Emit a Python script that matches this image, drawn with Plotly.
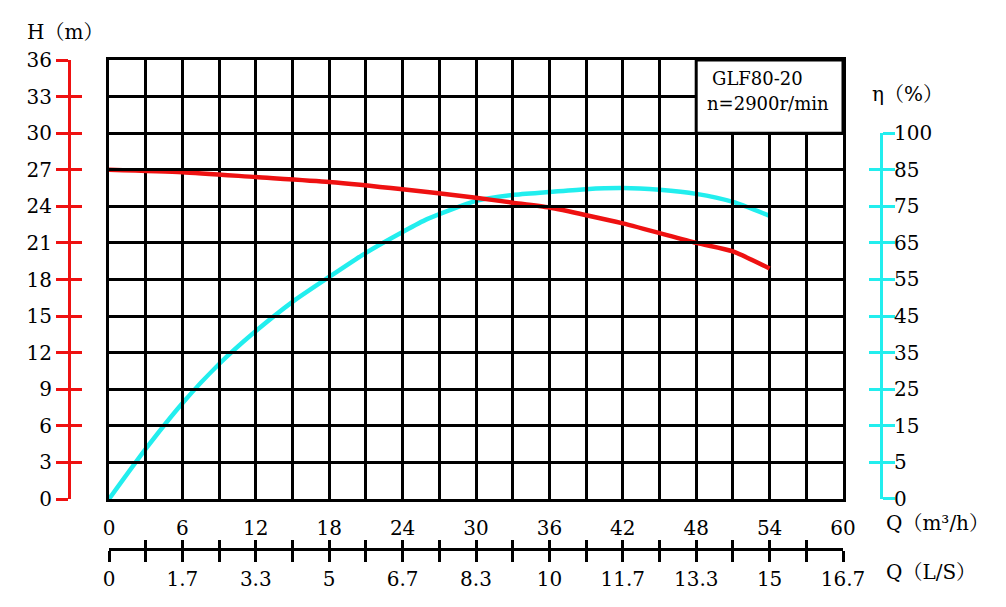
import numpy as np
import plotly.graph_objects as go

# ---------------- data ----------------
q_head = [0, 6, 12, 18, 24, 30, 33, 36, 42, 48, 51, 54]
head_m = [27.0, 26.8, 26.4, 26.0, 25.4, 24.7, 24.3, 23.9, 22.6, 21.0, 20.3, 18.9]

q_eff = [0, 3, 6, 9, 12, 15, 18, 21, 24, 26, 30, 33, 36, 39, 42, 45, 48, 51, 54]
eff_pct = [0, 8.7, 21.2, 31.9, 40.9, 48.9, 55.7, 62.3, 68.0, 71.5, 76.5, 78.1,
           78.9, 79.7, 80.0, 79.5, 78.4, 76.2, 72.4]

q_ticks = [0, 6, 12, 18, 24, 30, 36, 42, 48, 54, 60]
ls_labels = ["0", "1.7", "3.3", "5", "6.7", "8.3", "10", "11.7", "13.3", "15", "16.7"]
h_ticks = [0, 3, 6, 9, 12, 15, 18, 21, 24, 27, 30, 33, 36]
eff_labels = [0, 5, 15, 25, 35, 45, 55, 65, 75, 85, 100]

model_text = "GLF80-20"
speed_text = "n=2900r/min"

# ---------------- styling ----------------
W, H = 1006, 607
RED = "#ee1111"
CYAN = "#22eeee"
FONT = "DejaVu Serif, Noto Serif CJK SC, Noto Sans CJK SC"
TS = 20

x0p, x1p = 109, 843
y0p, y1p = 499, 60
xdom = [x0p / W, x1p / W]
ydom = [(H - y0p) / H, (H - y1p) / H]
h_max = 36
eff_top = ydom[0] + (ydom[1] - ydom[0]) * 30 / h_max
ydom2 = [ydom[0], eff_top]

eff_pos = np.interp(eff_pct, eff_labels, np.arange(len(eff_labels)))

fig = go.Figure()
fig.add_trace(go.Scatter(x=q_head, y=head_m, mode="lines",
                         line=dict(color=RED, width=4.5, shape="spline", smoothing=0.6),
                         xaxis="x", yaxis="y3", showlegend=False, hoverinfo="skip"))
fig.add_trace(go.Scatter(x=q_eff, y=eff_pos, mode="lines",
                         line=dict(color=CYAN, width=4.5, shape="spline", smoothing=0.6),
                         xaxis="x", yaxis="y2", showlegend=False, hoverinfo="skip"))
# empty traces so that the decorative tick axes get drawn
for xa, ya in [("x", "y4"), ("x", "y5"), ("x2", "y"), ("x3", "y")]:
    fig.add_trace(go.Scatter(x=[], y=[], xaxis=xa, yaxis=ya, showlegend=False,
                             hoverinfo="skip"))

minor_q = [q for q in range(3, 60, 6)]
ls_vals = [q / 3.6 for q in range(0, 61, 3)]

fig.update_layout(
    width=W, height=H,
    margin=dict(l=0, r=0, t=0, b=0, pad=0, autoexpand=False),
    paper_bgcolor="white", plot_bgcolor="rgba(0,0,0,0)",
    font=dict(family=FONT, size=TS, color="black"),
    xaxis=dict(domain=xdom, range=[0, 60], tickmode="array", tickvals=q_ticks,
               ticktext=[str(v) for v in q_ticks],
               showgrid=True, gridcolor="black", gridwidth=3,
               minor=dict(tickvals=minor_q, showgrid=True, gridcolor="black", gridwidth=3),
               showline=True, linecolor="black", linewidth=3, mirror=True,
               ticks="outside", ticklen=9, tickcolor="rgba(0,0,0,0)",
               zeroline=False, anchor="y", automargin=False),
    yaxis=dict(domain=ydom, range=[0, h_max], tickmode="array", tickvals=h_ticks,
               showgrid=True, gridcolor="black", gridwidth=3, showticklabels=False,
               showline=True, linecolor="black", linewidth=3, mirror=True,
               ticks="", zeroline=False, anchor="x", automargin=False),
    yaxis3=dict(overlaying="y", anchor="free", position=69 / W, side="left",
                range=[0, h_max], tickmode="array", tickvals=h_ticks,
                ticktext=[str(v) for v in h_ticks],
                ticks="outside", ticklen=12, tickwidth=3, tickcolor=RED,
                showline=True, linecolor=RED, linewidth=3,
                showgrid=False, zeroline=False, automargin=False),
    yaxis4=dict(overlaying="y", anchor="free", position=69 / W, side="left",
                range=[0, h_max], tickmode="array", tickvals=h_ticks,
                showticklabels=False,
                ticks="inside", ticklen=12, tickwidth=3, tickcolor=RED,
                showline=False, showgrid=False, zeroline=False, automargin=False),
    yaxis2=dict(domain=ydom2, anchor="free", position=881 / W, side="right",
                range=[0, 10], tickmode="array", tickvals=list(range(11)),
                ticktext=[str(v) for v in eff_labels],
                ticks="outside", ticklen=12, tickwidth=3, tickcolor=CYAN,
                ticklabelstandoff=-5,
                showline=True, linecolor=CYAN, linewidth=3,
                showgrid=False, zeroline=False, automargin=False),
    yaxis5=dict(overlaying="y2", anchor="free", position=881 / W, side="right",
                range=[0, 10], tickmode="array", tickvals=list(range(11)),
                showticklabels=False,
                ticks="inside", ticklen=12, tickwidth=3, tickcolor=CYAN,
                showline=False, showgrid=False, zeroline=False, automargin=False),
    xaxis2=dict(overlaying="x", anchor="free", position=(H - 549) / H, side="bottom",
                range=[0, 60 / 3.6], tickmode="array", tickvals=ls_vals,
                ticktext=[ls_labels[i // 2] if i % 2 == 0 else "" for i in range(21)],
                ticks="outside", ticklen=11, tickwidth=3, tickcolor="black",
                showline=True, linecolor="black", linewidth=3,
                showgrid=False, zeroline=False, automargin=False),
    xaxis3=dict(overlaying="x", anchor="free", position=(H - 549) / H, side="bottom",
                range=[0, 60 / 3.6], tickmode="array", tickvals=ls_vals,
                showticklabels=False,
                ticks="inside", ticklen=9, tickwidth=3, tickcolor="black",
                showline=False, showgrid=False, zeroline=False, automargin=False),
)

fig.add_shape(type="rect", xref="x", yref="y", x0=48, x1=60, y0=30, y1=36,
              fillcolor="white", line=dict(color="black", width=3), layer="above")
fig.add_annotation(x=53.0, y=34.5, xref="x", yref="y", text=model_text,
                   showarrow=False, font=dict(size=18))
fig.add_annotation(x=53.9, y=32.4, xref="x", yref="y", text=speed_text,
                   showarrow=False, font=dict(size=18))

fig.add_annotation(x=25 / W, y=(H - 32) / H, xref="paper", yref="paper", text="H（m）",
                   showarrow=False, xanchor="left", yanchor="middle", font=dict(size=20))
fig.add_annotation(x=870 / W, y=(H - 94) / H, xref="paper", yref="paper", text="η（%）",
                   showarrow=False, xanchor="left", yanchor="middle", font=dict(size=20))
fig.add_annotation(x=884 / W, y=(H - 523) / H, xref="paper", yref="paper", text="Q（m³/h）",
                   showarrow=False, xanchor="left", yanchor="middle", font=dict(size=20))
fig.add_annotation(x=884 / W, y=(H - 572) / H, xref="paper", yref="paper", text="Q（L/S）",
                   showarrow=False, xanchor="left", yanchor="middle", font=dict(size=20))

fig.write_html("out.html")
